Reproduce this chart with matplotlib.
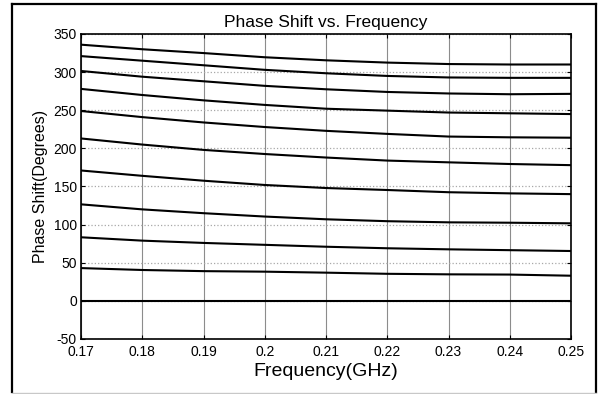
import matplotlib
matplotlib.use("Agg")
import matplotlib.pyplot as plt
from matplotlib.lines import Line2D

plt.rcParams['font.family'] = ['Liberation Sans', 'DejaVu Sans']
plt.rcParams['axes.unicode_minus'] = False

freq = [0.17, 0.18, 0.19, 0.20, 0.21, 0.22, 0.23, 0.24, 0.25]
s1 = [336, 330, 325, 319.5, 315.5, 312.5, 310.6, 310, 310]
s2 = [321, 315, 309, 303, 298.5, 295, 293, 292.5, 292.5]
s3 = [301.5, 294, 288, 282, 277.5, 274, 272, 271, 271.5]
s4 = [278, 270, 263, 257, 252, 249.5, 247, 246, 245]
s5 = [249, 241, 234, 228, 223, 219, 215.5, 214.5, 214]
s6 = [213, 205, 198, 192.6, 188, 184, 181.7, 179.5, 178]
s7 = [171, 164, 157.6, 152, 148, 145.4, 142.5, 141, 140]
s8 = [126.6, 120, 115, 110.6, 107, 104.5, 103, 102.5, 101.7]
s9 = [83.4, 79, 76, 73.5, 71, 69, 67.6, 66.5, 65.4]
s10 = [43, 40.5, 39, 38.3, 37, 35.5, 34.8, 34.5, 33]
s0 = [0, 0, 0, 0, 0, 0, 0, 0, 0]
series = [s1, s2, s3, s4, s5, s6, s7, s8, s9, s10, s0]

xticks = [0.17, 0.18, 0.19, 0.20, 0.21, 0.22, 0.23, 0.24, 0.25]
xticklabels = ['0.17', '0.18', '0.19', '0.2', '0.21', '0.22', '0.23', '0.24', '0.25']
yticks = [-50, 0, 50, 100, 150, 200, 250, 300, 350]

W, H = 603, 394
fig = plt.figure(figsize=(W / 100, H / 100), dpi=100)
ax = fig.add_axes([81 / W, 1 - 339 / H, (571 - 81) / W, (339 - 34) / H])

for s in series:
    ax.plot(freq, s, color='black', linewidth=1.5)

ax.set_xlim(0.17, 0.25)
ax.set_ylim(-50, 350)
ax.set_xticks(xticks)
ax.set_xticklabels(xticklabels)
ax.set_yticks(yticks)
ax.tick_params(direction='in', length=3, width=0.8, top=True, right=True,
               labelsize=10, pad=3)
ax.tick_params(axis='x', pad=4)
ax.xaxis.grid(True, color='#8c8c8c', linestyle='-', linewidth=0.8)
ax.yaxis.grid(True, color='#a8a8a8', linestyle=':', linewidth=0.9)
ax.set_axisbelow(True)
for sp in ax.spines.values():
    sp.set_linewidth(1.2)

ax.set_title('Phase Shift vs. Frequency', fontsize=12.5, pad=5)
ax.set_xlabel('Frequency(GHz)', fontsize=14, labelpad=3)
ax.set_ylabel('Phase Shift(Degrees)', fontsize=11.5, labelpad=4)

def fx(p):
    return p / W

def fy(p):
    return 1 - p / H

fig.add_artist(Line2D([fx(11.5), fx(11.5)], [fy(4), fy(392)], color='black', linewidth=1.6))
fig.add_artist(Line2D([fx(595.5), fx(595.5)], [fy(4), fy(392)], color='black', linewidth=1.6))
fig.add_artist(Line2D([fx(11.5), fx(595.5)], [fy(4), fy(4)], color='black', linewidth=1.6))
fig.add_artist(Line2D([fx(11.5), fx(595.5)], [fy(392.5), fy(392.5)], color='#c8c8c8', linewidth=1.0))

fig.savefig('out.png', dpi=100)
